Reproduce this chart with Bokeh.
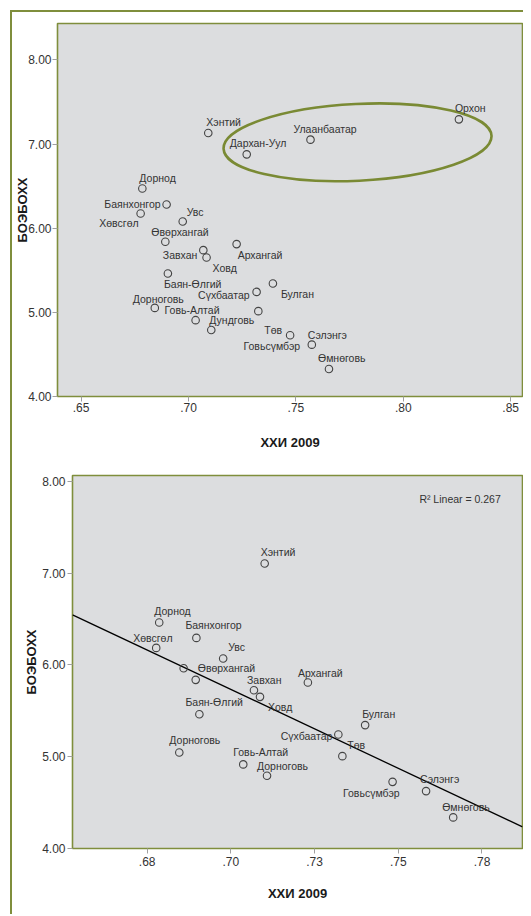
import numpy as np
from bokeh.plotting import figure
from bokeh.models import (ColumnDataSource, FixedTicker, CustomJSTickFormatter, Label)
from bokeh.layouts import column
from bokeh.embed import file_html
from bokeh.resources import INLINE
from bokeh.core.properties import value

# ---------------- data: chart 1 (all units) ----------------
names_top = ["Орхон", "Улаанбаатар", "Дархан-Уул", "Хэнтий", "Дорнод", "Баянхонгор",
             "Хөвсгөл", "Увс", "Өвөрхангай", "Завхан", "Ховд", "Архангай",
             "Баян-Өлгий", "Булган", "Сүхбаатар", "Дорноговь", "Говь-Алтай",
             "Дундговь", "Төв", "Говьсүмбэр", "Сэлэнгэ", "Өмнөговь"]
hdi_top = [0.8259, 0.7568, 0.7271, 0.7092, 0.6785, 0.6898,
           0.6777, 0.6973, 0.6892, 0.7069, 0.7084, 0.7224,
           0.6904, 0.7393, 0.7317, 0.6843, 0.7033,
           0.7106, 0.7325, 0.7473, 0.7574, 0.7654]
boe_top = [7.293, 7.052, 6.877, 7.131, 6.472, 6.282,
           6.175, 6.080, 5.838, 5.739, 5.651, 5.811,
           5.461, 5.342, 5.243, 5.053, 4.907,
           4.791, 5.014, 4.728, 4.616, 4.327]

# ---------------- data: chart 2 (aimags only) ----------------
names_bot = ["Хэнтий", "Дорнод", "Баянхонгор", "Хөвсгөл", "Увс", "",
             "Өвөрхангай", "Завхан", "Ховд", "Баян-Өлгий", "Архангай", "Булган",
             "Сүхбаатар", "Төв", "Дорноговь", "Говь-Алтай", "Дорноговь",
             "Говьсүмбэр", "Сэлэнгэ", "Өмнөговь"]
hdi_bot = [0.7101, 0.6786, 0.6897, 0.6777, 0.6977, 0.6859,
           0.6895, 0.7069, 0.7087, 0.6906, 0.7230, 0.7401,
           0.7321, 0.7333, 0.6846, 0.7037, 0.7108,
           0.7483, 0.7583, 0.7664]
boe_bot = [7.104, 6.462, 6.294, 6.185, 6.070, 5.964,
           5.837, 5.724, 5.652, 5.463, 5.808, 5.344,
           5.242, 5.006, 5.046, 4.916, 4.792,
           4.726, 4.625, 4.339]
r2_text = "R\u00b2 Linear = 0.267"

# ---------------- axis ticks ----------------
x_ticks_top = [0.65, 0.70, 0.75, 0.80, 0.85]
x_labels_top = [".65", ".70", ".75", ".80", ".85"]
x_ticks_bot = [0.675, 0.700, 0.725, 0.750, 0.775]
x_labels_bot = [".68", ".70", ".73", ".75", ".78"]
y_ticks = [4, 5, 6, 7, 8]
y_labels = ["4.00", "5.00", "6.00", "7.00", "8.00"]
x_title = "ХХИ 2009"
y_title = "БОЭБОХХ"

# ---------------- label placement (screen px, styling) ----------------
lab_top = [(-4, -11, "left"), (-17, -11, "left"), (-17, -11, "left"), (-2, -11, "left"),
           (-3, -10, "left"), (-6, 0, "right"), (-2, 10, "right"), (4, -9, "left"),
           (-14, -10, "left"), (-6, 5, "right"), (6, 10, "left"), (1, 11, "left"),
           (-4, 10, "left"), (8, 10, "left"), (-7, 3, "right"), (-22, -9, "left"),
           (-31, -10, "left"), (-2, -10, "left"), (6, 19, "left"), (10, 11, "right"),
           (-4, -10, "left"), (-11, -11, "left")]
lab_bot = [(-4, -12, "left"), (-5, -11, "left"), (-11, -13, "left"), (-23, -10, "left"),
           (5, -11, "left"), (0, 0, "left"), (2, -12, "left"), (-7, -10, "left"),
           (8, 10, "left"), (-14, -12, "left"), (-10, -10, "left"), (-3, -11, "left"),
           (-6, 2, "right"), (5, -11, "left"), (-10, -12, "left"), (-10, -12, "left"),
           (-10, -10, "left"), (7, 11, "right"), (-6, -12, "left"), (-11, -10, "left")]

FONT = "Liberation Sans"
OLIVE = "#7f8e3c"
BG = "#dcdddf"
TXT = "#333333"


def fmt(tick_vals, tick_labels):
    return CustomJSTickFormatter(args=dict(tv=tick_vals, tl=tick_labels), code="""
        for (let i = 0; i < tv.length; i++) {
            if (Math.abs(tv[i] - tick) < 1e-9) return tl[i];
        }
        return "";
    """)


def make_fig(xr, yr, h, fl, fw, ft, fh, xt, xl, ytick_out, ystand, ylab_stand, xstand, xlab_stand):
    p = figure(x_range=xr, y_range=yr, output_backend="svg",
               toolbar_location=None, tools="", frame_width=fw, frame_height=fh,
               min_border_left=fl, min_border_top=ft, min_border_right=1,
               min_border_bottom=h - ft - fh)
    p.frame_align = False
    p.background_fill_color = BG
    p.border_fill_color = "white"
    p.outline_line_color = OLIVE
    p.outline_line_width = 1.6
    p.grid.visible = False
    for ax in (p.xaxis[0], p.yaxis[0]):
        ax.axis_line_color = None
        ax.major_tick_line_color = "#a0a0a0"
        ax.minor_tick_line_color = None
        ax.major_tick_in = 0
        ax.major_label_text_font = FONT
        ax.major_label_text_font_size = "12px"
        ax.major_label_text_color = TXT
        ax.axis_label_text_font = FONT
        ax.axis_label_text_font_size = "13px"
        ax.axis_label_text_font_style = "bold"
        ax.axis_label_text_color = "#1a1a1a"
    xa = p.xaxis[0]
    xa.ticker = FixedTicker(ticks=xt)
    xa.formatter = fmt(xt, xl)
    xa.major_tick_out = 5
    xa.major_label_standoff = xstand
    xa.axis_label = x_title
    xa.axis_label_standoff = xlab_stand
    ya = p.yaxis[0]
    ya.ticker = FixedTicker(ticks=y_ticks)
    ya.formatter = fmt(y_ticks, y_labels)
    ya.major_tick_out = ytick_out
    ya.major_label_standoff = ystand
    ya.axis_label = y_title
    ya.axis_label_standoff = ylab_stand
    return p


def add_points(p, xs, ys, names, labs):
    src = ColumnDataSource(dict(x=xs, y=ys, name=names,
                                dx=[l[0] for l in labs], dy=[l[1] for l in labs],
                                al=[l[2] for l in labs]))
    p.scatter("x", "y", source=src, marker="circle", size=7.5, fill_color=None,
              line_color="#444444", line_width=1.1)
    p.text("x", "y", text="name", source=src, x_offset="dx", y_offset="dy",
           text_align="al", text_baseline="middle", text_font=value(FONT),
           text_font_size="10.5px", text_color=TXT)


# ---------------- chart 1 ----------------
p1 = make_fig((0.639, 0.8555), (4.0, 8.432), 450, 45, 465, 11, 373,
              x_ticks_top, x_labels_top, 5, 1, -5, 1, 20)
# highlight ellipse around the urban units
p1.ellipse(x=[0.7787], y=[7.020], width=[0.1249], height=[0.9125], angle=0.049,
           fill_color=None, line_color="#7a8a34", line_width=2.6)
add_points(p1, hdi_top, boe_top, names_top, lab_top)

# ---------------- chart 2 ----------------
p2 = make_fig((0.6527, 0.7871), (4.0, 8.063), 452, 60, 450, 13, 373,
              x_ticks_bot, x_labels_bot, 5, 2, 0, 3, 17)
slope, intercept = np.polyfit(hdi_bot, boe_bot, 1)
lx = [0.6527, 0.7871]
p2.line(lx, [intercept + slope * v for v in lx], line_color="black", line_width=1.3)
add_points(p2, hdi_bot, boe_bot, names_bot, lab_bot)
p2.add_layout(Label(x=0.7563, y=7.804, text=r2_text, text_font=FONT,
                    text_font_size="10.5px", text_color=TXT, text_baseline="middle"))

layout = column(p1, p2, spacing=0,
                styles={"border-left": "2px solid " + OLIVE,
                        "border-top": "2px solid " + OLIVE,
                        "margin-left": "10px", "margin-top": "10px"})
open("out.html", "w").write(file_html(layout, INLINE))
